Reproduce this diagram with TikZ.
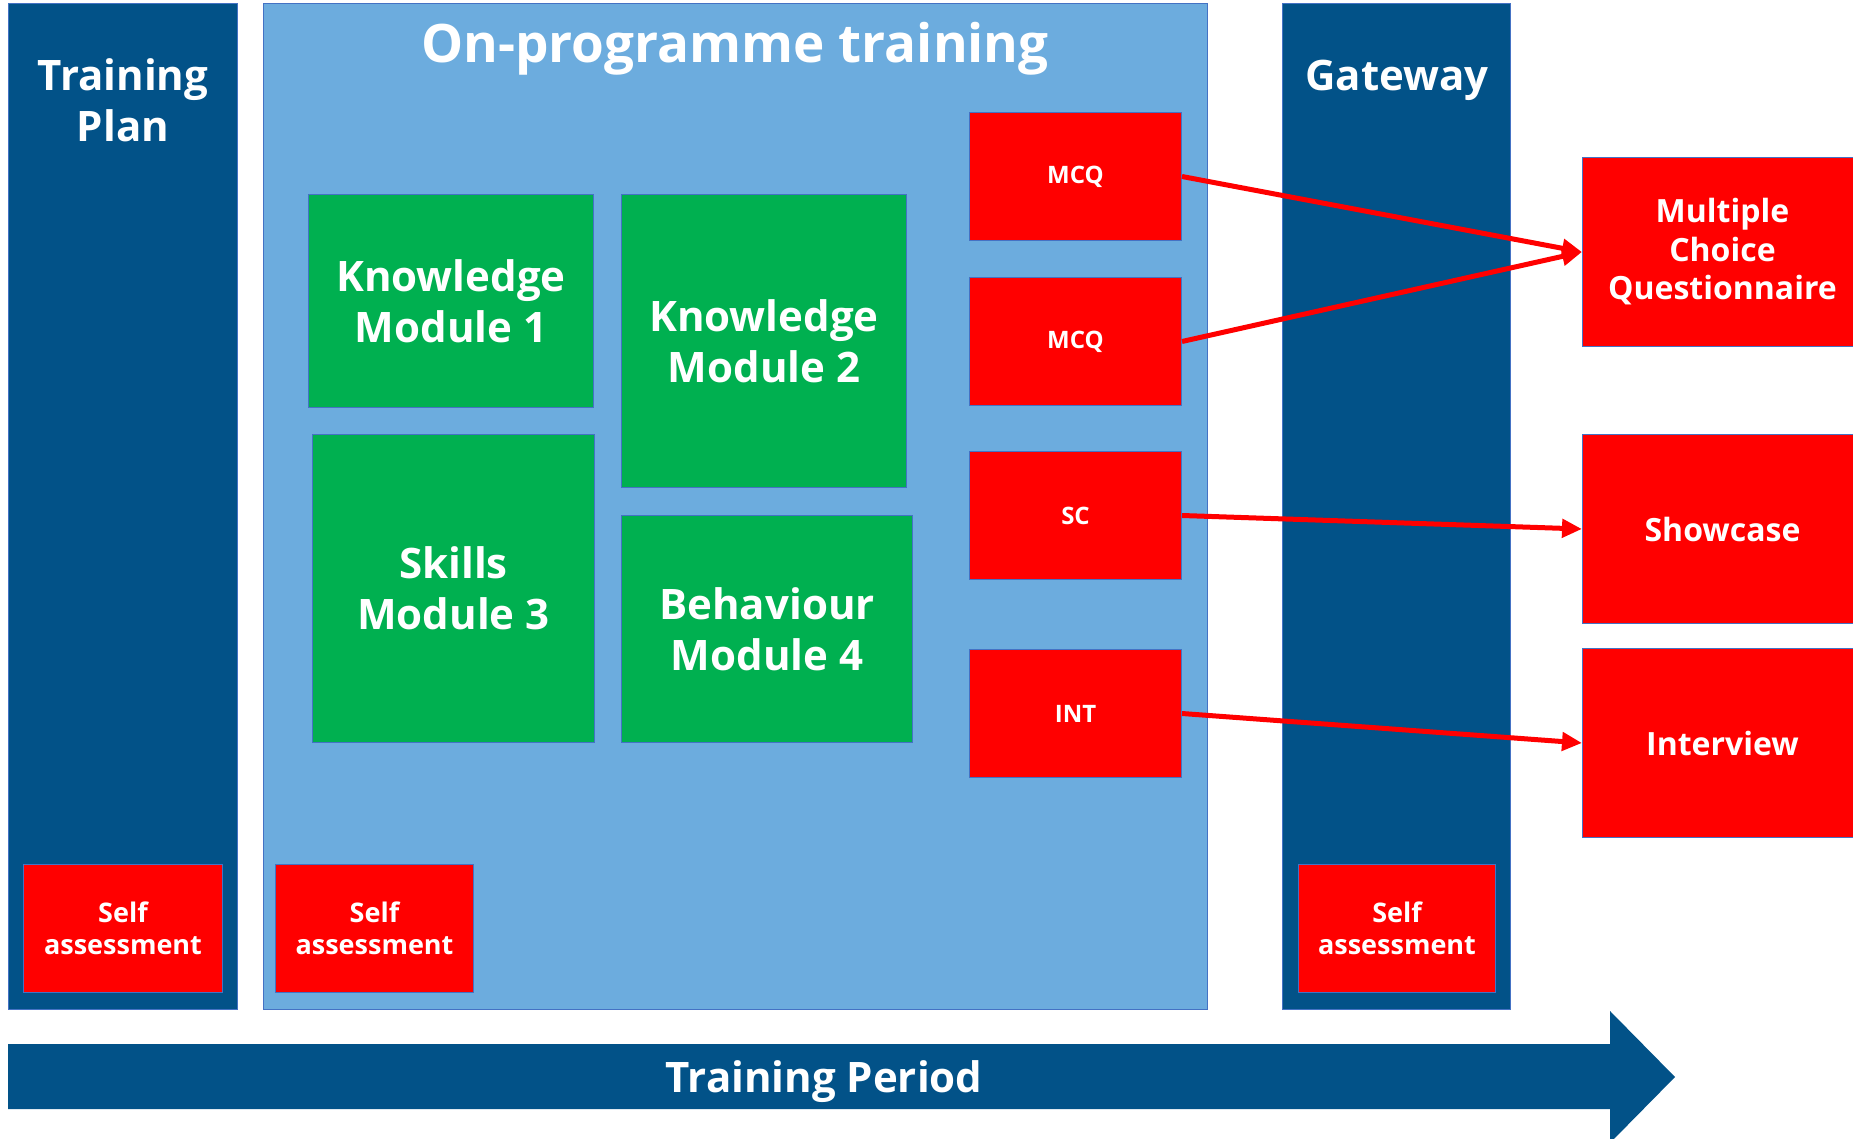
\documentclass[tikz,border=0pt]{standalone}
\usepackage{fontspec}
\setmainfont{Open Sans}
\usetikzlibrary{arrows.meta}
\definecolor{dblue}{RGB}{2,82,136}
\definecolor{lblue}{RGB}{108,172,222}
\definecolor{mgreen}{RGB}{0,176,80}
\definecolor{edgeblue}{RGB}{68,114,196}
\definecolor{mred}{RGB}{255,0,0}
\begin{document}
\begin{tikzpicture}[x=1pt,y=-1pt,
  box/.style={draw=edgeblue,line width=1pt,anchor=north west,inner sep=0pt,align=center,text=white},
  darkcol/.style={box,fill=dblue},
  lightcol/.style={box,fill=lblue},
  greenbox/.style={box,fill=mgreen,font=\bfseries\fontsize{42}{51}\selectfont},
  redsmall/.style={box,fill=mred,font=\bfseries\fontsize{24}{29}\selectfont},
  selfbox/.style={box,fill=mred,font=\bfseries\fontsize{27}{32}\selectfont},
  bigred/.style={box,fill=mred,font=\bfseries\fontsize{32}{38.5}\selectfont},
  coltitle/.style={text=white,align=center,inner sep=0pt,font=\bfseries\fontsize{42}{51}\selectfont},
  redarrow/.style={draw=mred,line width=5pt,-{Triangle[length=20pt,width=18pt]}}
]
\useasboundingbox (0,0) rectangle (1853,1139);
\clip (0,0) rectangle (1853,1139);

% columns
\node[darkcol,minimum width=229,minimum height=1006] (tp) at (8,3) {};
\node[lightcol,minimum width=944,minimum height=1006] (op) at (263,3) {};
\node[darkcol,minimum width=228,minimum height=1006] (gw) at (1282,3) {};

\node[coltitle] (tptitle) at (123,100) {Training\\Plan};
\node[coltitle,font=\bfseries\fontsize{53}{60}\selectfont] (optitle) at (735,49) {On-programme training};
\node[coltitle] (gwtitle) at (1397,80) {Gateway};

% self assessments
\node[selfbox,minimum width=199,minimum height=128] (sa1) at (23,864) {Self\\assessment};
\node[selfbox,minimum width=198,minimum height=128] (sa2) at (275,864) {Self\\assessment};
\node[selfbox,minimum width=197,minimum height=128] (sa3) at (1298,864) {Self\\assessment};

% modules
\node[greenbox,minimum width=285,minimum height=213] (km1) at (308,194) {Knowledge\\Module 1};
\node[greenbox,minimum width=285,minimum height=293] (km2) at (621,194) {Knowledge\\Module 2};
\node[greenbox,minimum width=282,minimum height=308] (sm3) at (312,434) {Skills\\Module 3};
\node[greenbox,minimum width=291,minimum height=227] (bm4) at (621,515) {Behaviour\\Module 4};

% assessment boxes
\node[redsmall,minimum width=212,minimum height=128] (mcq1) at (969,112) {MCQ};
\node[redsmall,minimum width=212,minimum height=128] (mcq2) at (969,277) {MCQ};
\node[redsmall,minimum width=212,minimum height=128] (sc) at (969,451) {SC};
\node[redsmall,minimum width=212,minimum height=128] (int) at (969,649) {INT};

% end point assessments
\node[bigred,minimum width=280,minimum height=189] (mcqbig) at (1582,157) {Multiple\\Choice\\Questionnaire};
\node[bigred,minimum width=280,minimum height=189] (show) at (1582,434) {Showcase};
\node[bigred,minimum width=280,minimum height=189] (interview) at (1582,648) {Interview};

% arrows
\draw[redarrow] (mcq1.east) -- (mcqbig.west);
\draw[redarrow] (mcq2.east) -- (mcqbig.west);
\draw[redarrow] (sc.east) -- (show.west);
\draw[redarrow] (int.east) -- (interview.west);

% training period arrow
\fill[dblue] (8,1044) -- (1610,1044) -- (1610,1011) -- (1675,1077) -- (1610,1143) -- (1610,1109) -- (8,1109) -- cycle;
\node[coltitle] (period) at (824,1082) {Training Period};
\end{tikzpicture}
\end{document}
